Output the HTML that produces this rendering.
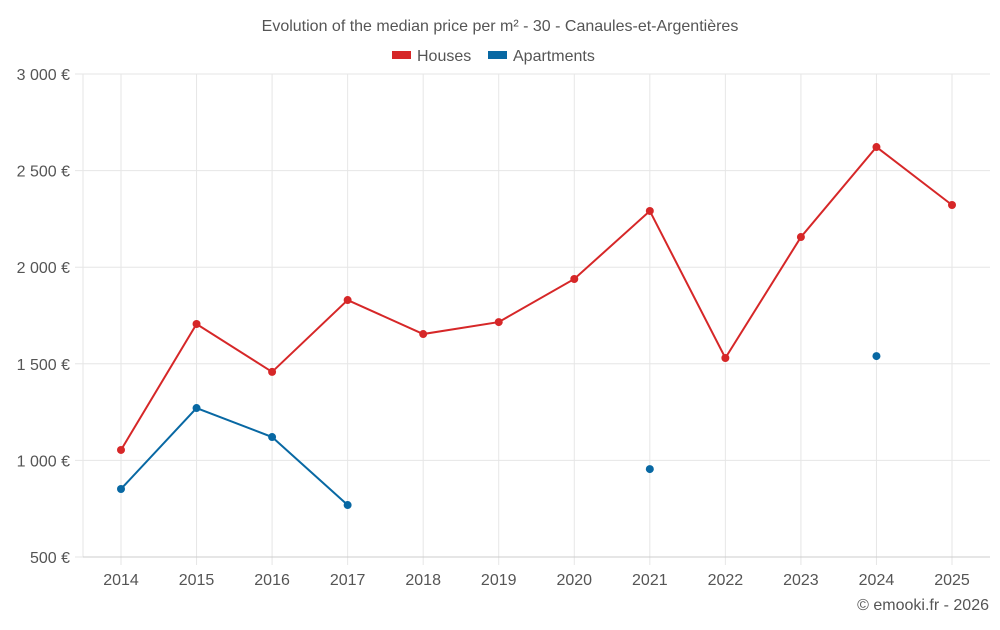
<!DOCTYPE html>
<html><head><meta charset="utf-8"><style>
body{margin:0;background:#fff;width:1000px;height:625px;overflow:hidden;font-family:"Liberation Sans",sans-serif}
</style></head><body>
<svg id="chart" width="1000" height="625" xmlns="http://www.w3.org/2000/svg">
<text x="500" y="31" text-anchor="middle" font-size="16" fill="#555">Evolution of the median price per m² - 30 - Canaules-et-Argentières</text>
<g>
<g><rect x="392" y="51" width="19" height="8" fill="#d62728"/><text x="417" y="61" font-size="16" fill="#555">Houses</text></g>
<g><rect x="488" y="51" width="19" height="8" fill="#0868a3"/><text x="513" y="61" font-size="16" fill="#555">Apartments</text></g>
</g>
<g id="grid"></g><g id="marks"></g>
<text x="989" y="610" text-anchor="end" font-size="16" fill="#555">© emooki.fr - 2026</text>
</svg>
<script>
const years=[2014,2015,2016,2017,2018,2019,2020,2021,2022,2023,2024,2025];
const houses=[1054,1706,1458,1830,1654,1716,1939,2291,1530,2156,2622,2322];
const apartments=[852,1271,1121,769,null,null,null,955,null,null,1540,null];
const yTicks=[500,1000,1500,2000,2500,3000];
const yTickLabels=["500 €","1 000 €","1 500 €","2 000 €","2 500 €","3 000 €"];
const NS="http://www.w3.org/2000/svg";
const L=83,R=990,T=74,B=557,ymin=500,ymax=3000;
const x=i=>121+i*(952-121)/(years.length-1);
const y=v=>B-(v-ymin)/(ymax-ymin)*(B-T);
const grid=document.getElementById('grid'),marks=document.getElementById('marks');
function mk(tag,attrs,parent){const e=document.createElementNS(NS,tag);for(const k in attrs)e.setAttribute(k,attrs[k]);parent.appendChild(e);return e;}
yTicks.forEach((v,i)=>{
 const l=mk('line',{x1:75,x2:R,y1:y(v),y2:y(v),stroke:'#e6e6e6'},grid);
 
 
 const t=mk('text',{x:70,y:y(v)+6,'text-anchor':'end','font-size':16,fill:'#555'},grid);
 t.textContent=yTickLabels[i];
 
 
});
const al=mk('line',{x1:L,x2:L,y1:T,y2:B,stroke:'#e6e6e6'},grid);


years.forEach((yr,i)=>{
 const l=mk('line',{x1:x(i),x2:x(i),y1:T,y2:B+8,stroke:'#e6e6e6'},grid);
 
 
 const t=mk('text',{x:x(i),y:585,'text-anchor':'middle','font-size':16,fill:'#555'},grid);
 t.textContent=yr;
 
 
});
const xl=mk('line',{x1:L,x2:R,y1:B,y2:B,stroke:'#ccc'},grid);


function series(vals,color,name){
 let d='',pen=false;
 vals.forEach((v,i)=>{if(v==null){pen=false;return;}d+=(pen?'L':'M')+x(i)+' '+y(v)+' ';pen=true;});
 const p=mk('path',{d:d,fill:'none',stroke:color,'stroke-width':2},marks);
 
 
 vals.forEach((v,i)=>{if(v==null)return;
  const c=mk('circle',{cx:x(i),cy:y(v),r:4,fill:color},marks);
  
  
 });
}
series(houses,'#d62728','houses');
series(apartments,'#0868a3','apartments');
</script>
</body></html>
